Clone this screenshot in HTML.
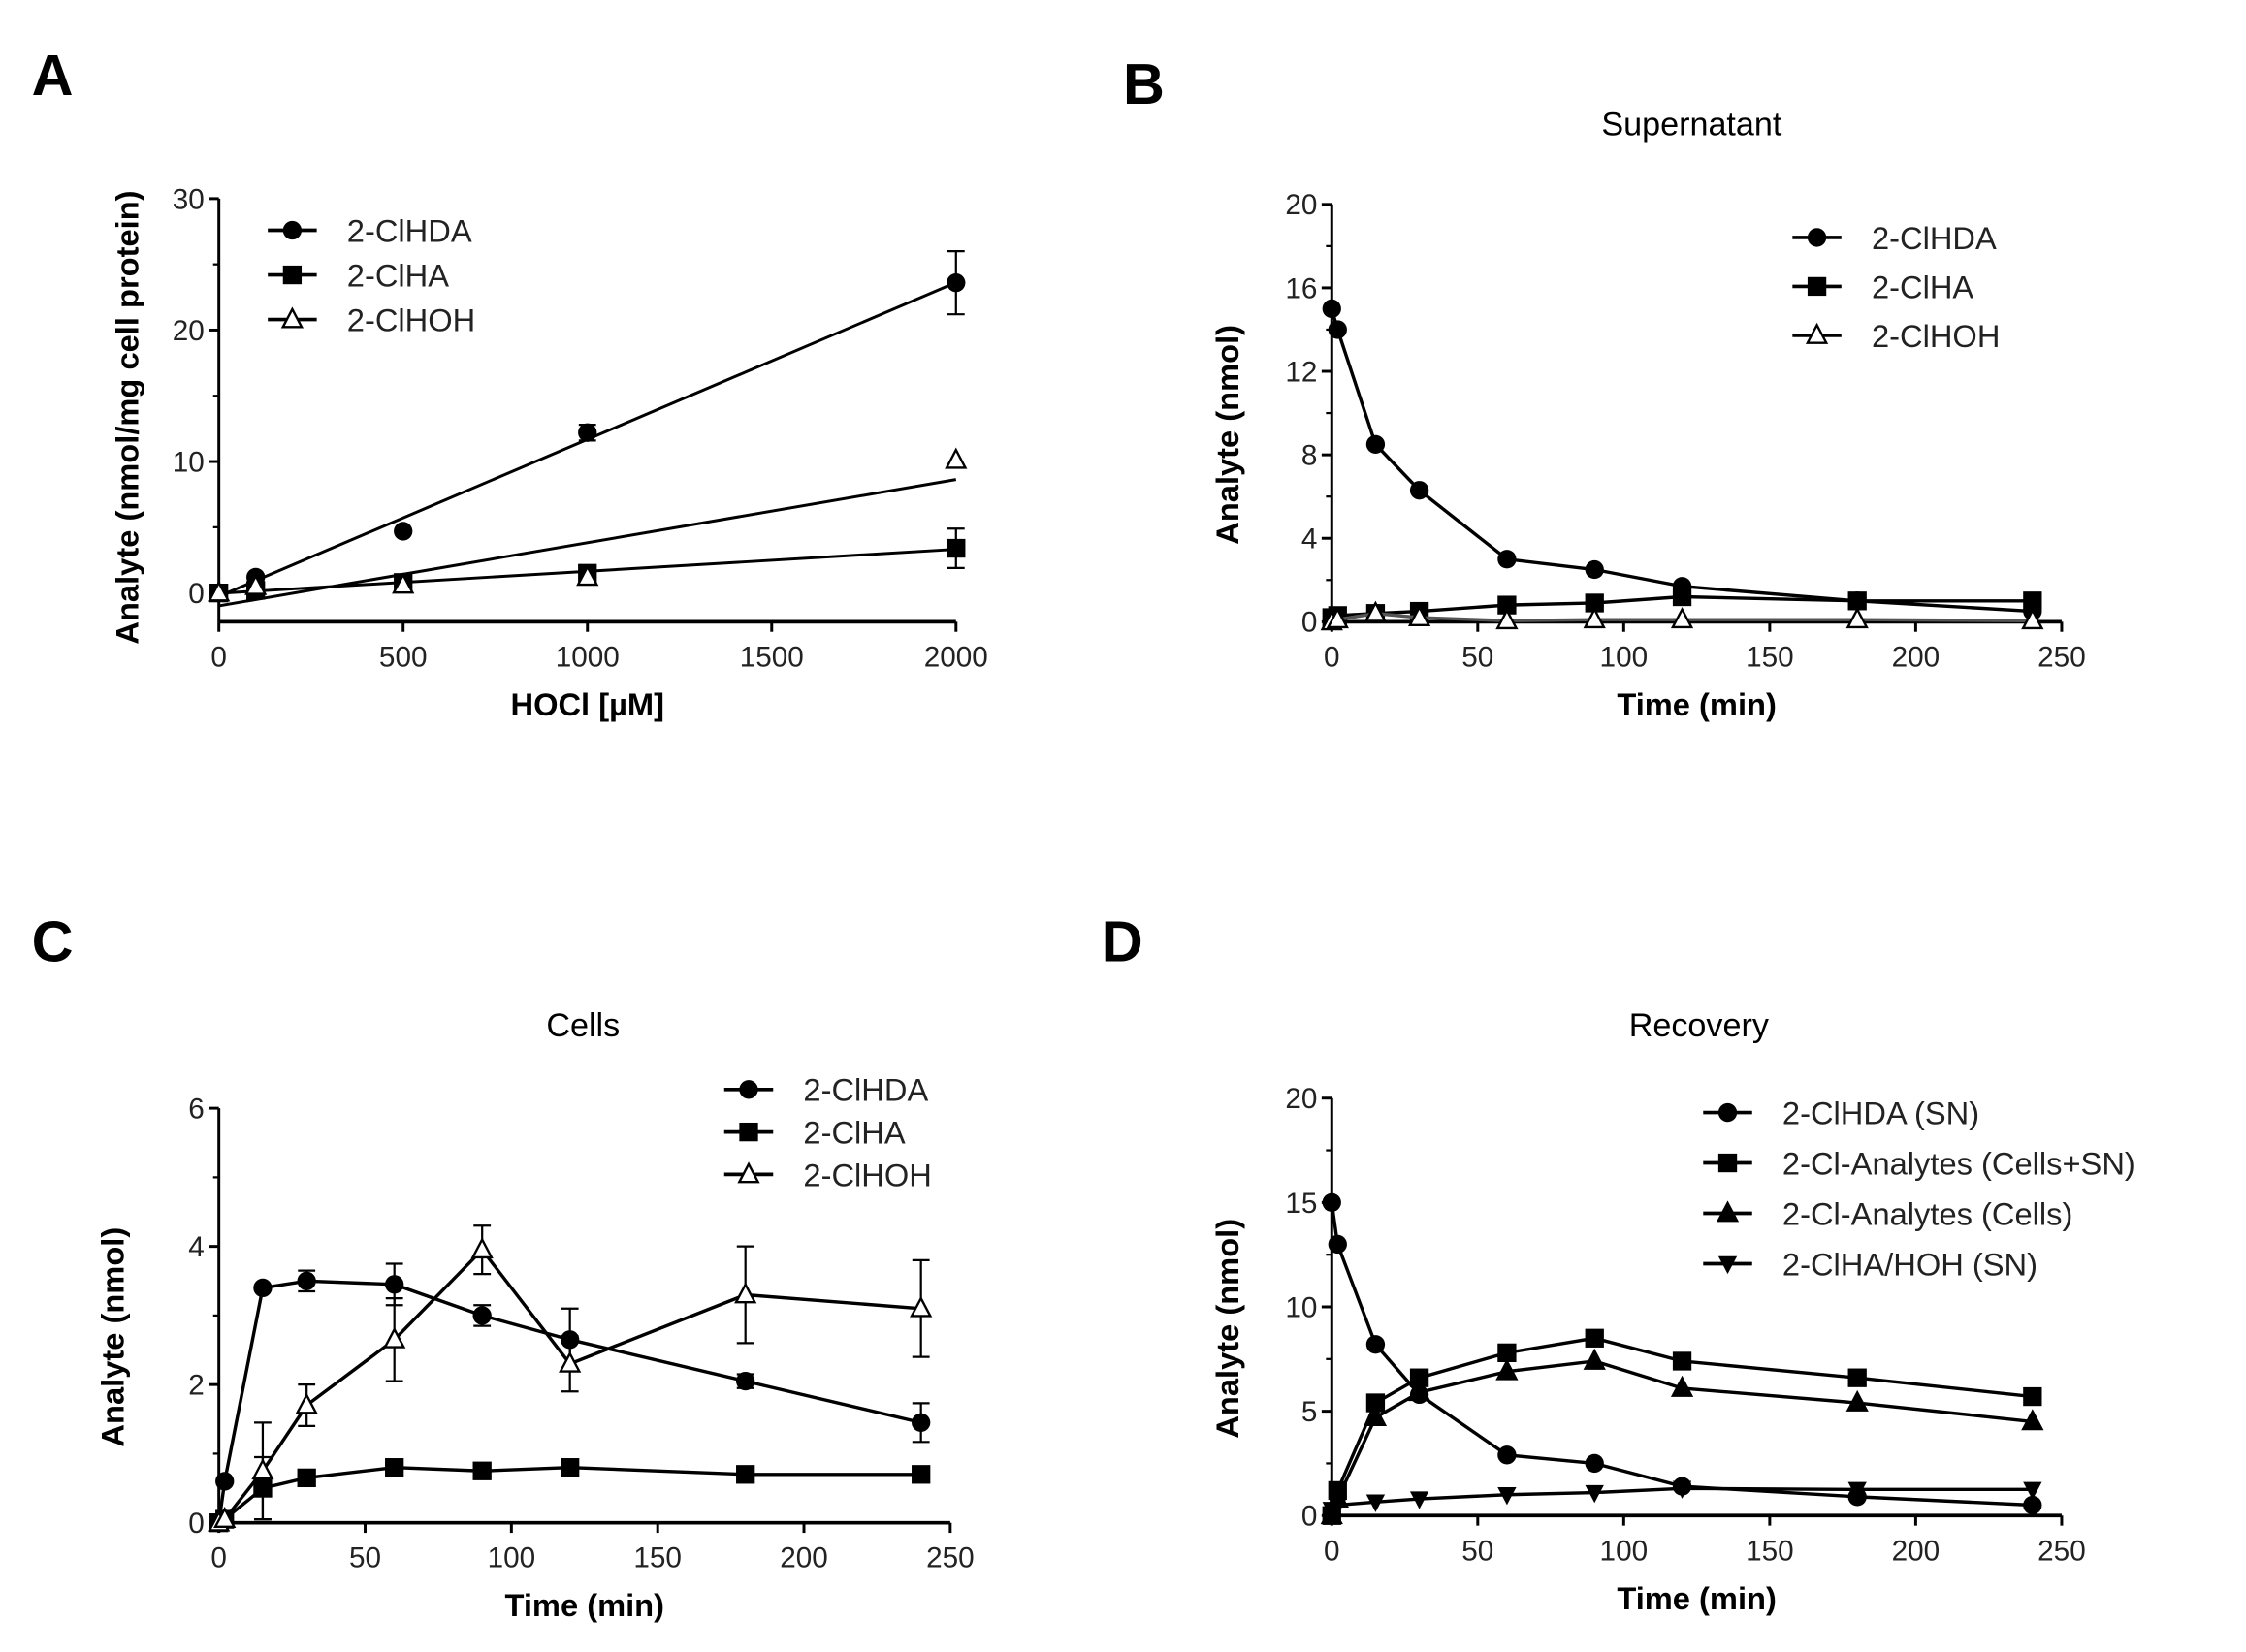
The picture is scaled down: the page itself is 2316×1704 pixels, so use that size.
<!DOCTYPE html>
<html><head><meta charset="utf-8"><style>
html,body{margin:0;padding:0;background:#fff;}
svg{display:block;font-family:"Liberation Sans",Arial,sans-serif;}
</style></head><body>
<svg id="fig" width="2316" height="1704" viewBox="0 0 1560 1147.8" xmlns="http://www.w3.org/2000/svg"></svg>
<script>
// ---- Panel A data ----
const aX = [0, 100, 500, 1000, 2000];
const aHDA = [0, 1.2, 4.7, 12.2, 23.6];
const aHDAerr = [0, 0, 0, 0.6, 2.4];
const aHA = [0, 0.2, 0.8, 1.5, 3.4];
const aHAerr = [0, 0, 0, 0, 1.5];
const aHOH = [0, 0.5, 0.6, 1.2, 10.1];
const aHOHerr = [0, 0, 0, 0.5, 0];
const aXTicks = [0, 500, 1000, 1500, 2000];
const aYTicks = [0, 10, 20, 30];
// ---- Panel B data ----
const tX = [0, 2, 15, 30, 60, 90, 120, 180, 240];
const bHDA = [15, 14, 8.5, 6.3, 3.0, 2.5, 1.7, 1.0, 0.5];
const bHA = [0.2, 0.3, 0.4, 0.5, 0.8, 0.9, 1.2, 1.0, 1.0];
const bHOH = [0, 0.1, 0.4, 0.2, 0.05, 0.1, 0.1, 0.1, 0.05];
const bYTicks = [0, 4, 8, 12, 16, 20];
const timeTicks = [0, 50, 100, 150, 200, 250];
// ---- Panel C data ----
const cHDA = [0, 0.6, 3.4, 3.5, 3.45, 3.0, 2.65, 2.05, 1.45];
const cHDAerr = [0, 0, 0, 0.15, 0.3, 0.15, 0.45, 0.1, 0.28];
const cHA = [0, 0.05, 0.5, 0.65, 0.8, 0.75, 0.8, 0.7, 0.7];
const cHAerr = [0, 0, 0.45, 0, 0, 0, 0, 0, 0];
const cHOH = [0, 0.05, 0.75, 1.7, 2.65, 3.95, 2.3, 3.3, 3.1];
const cHOHerr = [0, 0, 0.7, 0.3, 0.6, 0.35, 0.4, 0.7, 0.7];
const cYTicks = [0, 2, 4, 6];
// ---- Panel D data ----
const dHDA = [15, 13, 8.2, 5.8, 2.9, 2.5, 1.4, 0.9, 0.5];
const dTot = [0, 1.2, 5.4, 6.6, 7.8, 8.5, 7.4, 6.6, 5.7];
const dCells = [0, 0.8, 4.7, 5.9, 6.9, 7.4, 6.1, 5.4, 4.5];
const dSN = [0.3, 0.5, 0.65, 0.8, 1.0, 1.1, 1.3, 1.25, 1.25];
const dYTicks = [0, 5, 10, 15, 20];

const NS = "http://www.w3.org/2000/svg";
const svg = document.getElementById('fig');
function el(tag, attrs, parent, text) {
  const e = document.createElementNS(NS, tag);
  for (const k in attrs) e.setAttribute(k, attrs[k]);
  if (text !== undefined) e.textContent = text;
  (parent || svg).appendChild(e);
  return e;
}
function marker(g, type, x, y, r) {
  let m;
  if (type === 'circle') m = el('circle', {cx: x, cy: y, r: r, fill: '#000'}, g);
  else if (type === 'square') m = el('rect', {x: x - r, y: y - r, width: 2 * r, height: 2 * r, fill: '#000'}, g);
  else if (type === 'tri' || type === 'triopen') {
    m = el('polygon', {points: `${x},${y - r * 1.1} ${x - r},${y + r * 0.8} ${x + r},${y + r * 0.8}`, fill: type === 'tri' ? '#000' : '#fff', stroke: '#000', 'stroke-width': 1.6}, g);
  } else if (type === 'tridown') {
    m = el('polygon', {points: `${x},${y + r * 1.1} ${x - r},${y - r * 0.8} ${x + r},${y - r * 0.8}`, fill: '#000'}, g);
  }
  return m;
}
function panel(cfg) {
  const g = el('g', {});
  
  
  const sx = v => cfg.x0 + (v - cfg.xmin) / (cfg.xmax - cfg.xmin) * (cfg.x1 - cfg.x0);
  const sy = v => cfg.y0 - (v - cfg.ymin) / (cfg.ymax - cfg.ymin) * (cfg.y0 - cfg.y1);
  const lab = el('text', {x: cfg.lx, y: cfg.ly, 'font-size': 40, 'font-weight': 'bold'}, g, cfg.letter);
  
  
  if (cfg.title) {
    const t = el('text', {x: cfg.tx, y: cfg.ty, 'font-size': 23, 'text-anchor': 'middle'}, g, cfg.title);
    
    
  }
  // y axis
  const ya = el('line', {x1: cfg.x0, x2: cfg.x0, y1: cfg.y1, y2: cfg.axisY, stroke: '#000', 'stroke-width': 2}, g);
  
  
  cfg.yTicks.forEach(v => {
    el('line', {x1: cfg.x0 - 7, x2: cfg.x0, y1: sy(v), y2: sy(v), stroke: '#000', 'stroke-width': 2}, g);
    const t = el('text', {x: cfg.x0 - 10, y: sy(v) + 7, 'font-size': 20, 'text-anchor': 'end', fill: '#222'}, g, v);
    
    
  });
  for (let i = 0; i < cfg.yTicks.length - 1; i++) {
    const m = (cfg.yTicks[i] + cfg.yTicks[i + 1]) / 2;
    el('line', {x1: cfg.x0 - 4, x2: cfg.x0, y1: sy(m), y2: sy(m), stroke: '#000', 'stroke-width': 1.5}, g);
  }
  // x axis
  const xa = el('line', {x1: cfg.x0, x2: cfg.x1, y1: cfg.axisY, y2: cfg.axisY, stroke: '#000', 'stroke-width': 2.5}, g);
  
  
  cfg.xTicks.forEach(v => {
    el('line', {x1: sx(v), x2: sx(v), y1: cfg.axisY, y2: cfg.axisY + 7, stroke: '#000', 'stroke-width': 2}, g);
    const t = el('text', {x: sx(v), y: cfg.axisY + 31, 'font-size': 20, 'text-anchor': 'middle', fill: '#222'}, g, v);
    
    
  });
  const xt = el('text', {x: (cfg.x0 + cfg.x1) / 2, y: cfg.axisY + 65, 'font-size': 22, 'font-weight': 'bold', 'text-anchor': 'middle'}, g, cfg.xTitle);
  
  
  const ycx = cfg.ylx, ycy = (cfg.y1 + cfg.y0) / 2 + 15;
  const yt = el('text', {x: ycx, y: ycy, 'font-size': 22, 'font-weight': 'bold', 'text-anchor': 'middle', transform: `rotate(-90 ${ycx} ${ycy})`}, g, cfg.yTitle);
  
  
  // series
  cfg.series.forEach(s => {
    const sg = el('g', {}, g);
    
    
    if (s.fit) {
      const n = s.xs.length;
      const mx = s.xs.reduce((a, b) => a + b, 0) / n, my = s.ys.reduce((a, b) => a + b, 0) / n;
      let sxy = 0, sxx = 0;
      for (let i = 0; i < n; i++) { sxy += (s.xs[i] - mx) * (s.ys[i] - my); sxx += (s.xs[i] - mx) ** 2; }
      const b = sxy / sxx, a = my - b * mx;
      const xe = s.xs[n - 1];
      const fl = el('line', {x1: sx(0), y1: sy(a), x2: sx(xe), y2: sy(a + b * xe), stroke: '#000', 'stroke-width': 2}, sg);
      
      
    } else {
      const pl = el('polyline', {points: s.xs.map((x, i) => sx(x) + ',' + sy(s.ys[i])).join(' '), fill: 'none', stroke: s.color || '#000', 'stroke-width': 2.3}, sg);
      
      
    }
    s.xs.forEach((x, i) => {
      const e = s.err ? s.err[i] : 0;
      if (e > 0) {
        const px = sx(x);
        el('line', {x1: px, x2: px, y1: sy(s.ys[i] - e), y2: sy(s.ys[i] + e), stroke: '#000', 'stroke-width': 1.5}, sg);
        el('line', {x1: px - 6, x2: px + 6, y1: sy(s.ys[i] + e), y2: sy(s.ys[i] + e), stroke: '#000', 'stroke-width': 1.5}, sg);
        el('line', {x1: px - 6, x2: px + 6, y1: sy(s.ys[i] - e), y2: sy(s.ys[i] - e), stroke: '#000', 'stroke-width': 1.5}, sg);
      }
      const m = marker(sg, s.marker, sx(x), sy(s.ys[i]), 6.5);
      
      
    });
  });
  // legend
  const lg = el('g', {}, g);
  
  
  cfg.series.forEach((s, i) => {
    const y = cfg.legY + i * cfg.legDy;
    const eg = el('g', {}, lg);
    
    
    el('line', {x1: cfg.legX - 17, x2: cfg.legX + 17, y1: y, y2: y, stroke: '#000', 'stroke-width': 2.5}, eg);
    marker(eg, s.marker, cfg.legX, y, 6.5);
    el('text', {x: cfg.legX + 38, y: y + 8, 'font-size': 22, fill: '#222'}, eg, s.label);
  });
}

panel({name: 'panel-a', letter: 'A', lx: 22, ly: 66, x0: 152, x1: 664, xmin: 0, xmax: 2000, y0: 412, y1: 138, ymin: 0, ymax: 30, axisY: 432,
  xTicks: aXTicks, yTicks: aYTicks, xTitle: 'HOCl [µM]', yTitle: 'Analyte (nmol/mg cell protein)', ylx: 96,
  legX: 203, legY: 160, legDy: 31,
  series: [
    {key: 'a-2clhda', label: '2-ClHDA', xs: aX, ys: aHDA, err: aHDAerr, marker: 'circle', fit: true},
    {key: 'a-2clha', label: '2-ClHA', xs: aX, ys: aHA, err: aHAerr, marker: 'square', fit: true},
    {key: 'a-2clhoh', label: '2-ClHOH', xs: aX, ys: aHOH, err: aHOHerr, marker: 'triopen', fit: true}
  ]});
panel({name: 'panel-b', letter: 'B', lx: 780, ly: 72, title: 'Supernatant', tx: 1175, ty: 94, x0: 925, x1: 1432, xmin: 0, xmax: 250, y0: 432, y1: 142, ymin: 0, ymax: 20, axisY: 432,
  xTicks: timeTicks, yTicks: bYTicks, xTitle: 'Time (min)', yTitle: 'Analyte (nmol)', ylx: 860,
  legX: 1262, legY: 165, legDy: 34,
  series: [
    {key: 'b-2clhda', label: '2-ClHDA', xs: tX, ys: bHDA, marker: 'circle'},
    {key: 'b-2clha', label: '2-ClHA', xs: tX, ys: bHA, marker: 'square'},
    {key: 'b-2clhoh', label: '2-ClHOH', xs: tX, ys: bHOH, marker: 'triopen', color: '#555'}
  ]});
panel({name: 'panel-c', letter: 'C', lx: 22, ly: 668, title: 'Cells', tx: 405, ty: 720, x0: 152, x1: 660, xmin: 0, xmax: 250, y0: 1058, y1: 770, ymin: 0, ymax: 6, axisY: 1058,
  xTicks: timeTicks, yTicks: cYTicks, xTitle: 'Time (min)', yTitle: 'Analyte (nmol)', ylx: 86,
  legX: 520, legY: 757, legDy: 29.5,
  series: [
    {key: 'c-2clhda', label: '2-ClHDA', xs: tX, ys: cHDA, err: cHDAerr, marker: 'circle'},
    {key: 'c-2clha', label: '2-ClHA', xs: tX, ys: cHA, err: cHAerr, marker: 'square'},
    {key: 'c-2clhoh', label: '2-ClHOH', xs: tX, ys: cHOH, err: cHOHerr, marker: 'triopen'}
  ]});
panel({name: 'panel-d', letter: 'D', lx: 765, ly: 668, title: 'Recovery', tx: 1180, ty: 720, x0: 925, x1: 1432, xmin: 0, xmax: 250, y0: 1053, y1: 763, ymin: 0, ymax: 20, axisY: 1053,
  xTicks: timeTicks, yTicks: dYTicks, xTitle: 'Time (min)', yTitle: 'Analyte (nmol)', ylx: 860,
  legX: 1200, legY: 773, legDy: 35,
  series: [
    {key: 'd-2clhda-sn', label: '2-ClHDA (SN)', xs: tX, ys: dHDA, marker: 'circle'},
    {key: 'd-total', label: '2-Cl-Analytes (Cells+SN)', xs: tX, ys: dTot, marker: 'square'},
    {key: 'd-cells', label: '2-Cl-Analytes (Cells)', xs: tX, ys: dCells, marker: 'tri'},
    {key: 'd-2clha-hoh-sn', label: '2-ClHA/HOH (SN)', xs: tX, ys: dSN, marker: 'tridown'}
  ]});
</script>
</body></html>
